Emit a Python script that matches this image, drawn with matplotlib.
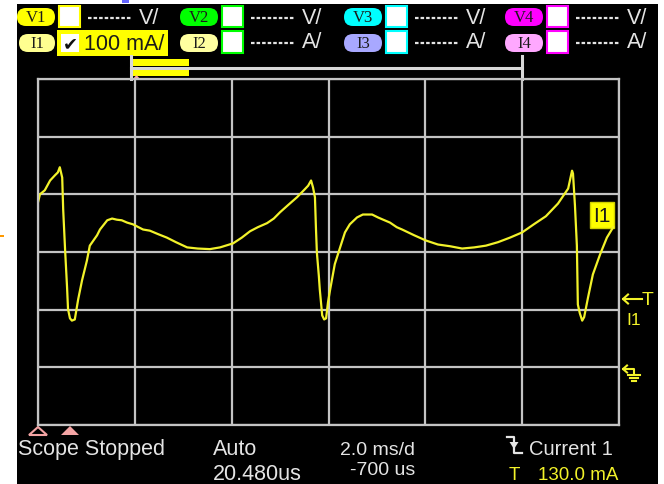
import numpy as np
import matplotlib
matplotlib.use('Agg')
import matplotlib.pyplot as plt
from matplotlib.patches import Rectangle, FancyBboxPatch, Polygon

# I1 trace: time (ms from left grid edge) and current (mA)
time_ms = [0.00, 0.04, 0.14, 0.25, 0.35, 0.41, 0.45, 0.50, 0.52, 0.56, 0.60, 0.62,
           0.66, 0.70, 0.76, 0.83, 0.91, 1.01, 1.07, 1.22, 1.28, 1.43, 1.53, 1.63,
           1.73, 1.84, 1.96, 2.17, 2.31, 2.48, 2.66, 2.85, 3.08, 3.30, 3.55, 3.76,
           4.03, 4.21, 4.38, 4.54, 4.73, 4.87, 5.00, 5.16, 5.35, 5.49, 5.58, 5.64,
           5.68, 5.72, 5.74, 5.76, 5.80, 5.82, 5.87, 5.91, 5.95, 5.99, 6.03, 6.13,
           6.24, 6.34, 6.44, 6.59, 6.71, 6.90, 7.02, 7.13, 7.27, 7.41, 7.52, 7.77,
           8.01, 8.26, 8.51, 8.76, 9.01, 9.25, 9.50, 9.75, 10.00, 10.24, 10.49, 10.74,
           10.95, 11.03, 11.05, 11.09, 11.13, 11.15, 11.19, 11.24, 11.28, 11.36, 11.46,
           11.61, 11.75, 11.88]
current_ma = [286, 300, 307, 324, 333, 338, 347, 329, 274, 203, 139, 101,
              85, 81, 83, 118, 151, 185, 211, 229, 239, 255, 258, 256,
              255, 251, 248, 239, 237, 231, 225, 217, 208, 206, 205, 208,
              215, 225, 236, 243, 250, 258, 269, 281, 295, 307, 315, 324,
              312, 295, 243, 199, 159, 135, 90, 83, 85, 113, 133, 179,
              208, 234, 248, 260, 265, 265, 260, 256, 251, 243, 239, 229,
              220, 213, 210, 206, 208, 211, 217, 225, 234, 248, 262, 284,
              310, 341, 336, 281, 211, 109, 94, 81, 87, 121, 161,
              196, 225, 243]

# grid: 2.0 ms/div across, 100 mA/div up
x_ticks = np.arange(0, 13, 2)
y_ticks = np.arange(-100, 501, 100)

# scope readouts
channels = ['1', '2', '3', '4']
v_colors = ['#ffff00', '#00ff00', '#00ffff', '#ff00ff']
i_colors = ['#ffff90', '#ffffa0', '#a8a8ff', '#ffa8ff']
i1_scale = '100 mA/'
status = 'Scope Stopped'
acq_mode = 'Auto'
sample_time = '20.480us'
time_div = '2.0 ms/d'
time_offset = '-700 us'
trig_source = 'Current 1'
trig_level = '130.0 mA'

GRID = '#c4c4c4'
TRACE = '#f2f22a'
TXT = '#e4e4e4'
PINK = '#f4a4a4'
SANS = 'Liberation Sans'
DASH = (0, (1.6, 0.9))

W, H = 664, 485
fig = plt.figure(figsize=(W / 100, H / 100), dpi=100, facecolor='white')

# pixel-space overlay for the instrument screen chrome
ov = fig.add_axes([0, 0, 1, 1])
ov.set_xlim(0, W)
ov.set_ylim(H, 0)
ov.axis('off')
ov.add_patch(Rectangle((17, 5), 641, 480, fc='black', ec='none'))
ov.add_patch(Rectangle((122, 0), 7, 4, fc='#6464ff', ec='none'))
ov.add_patch(Rectangle((0, 236), 4, 2, fc='#ff9900', ec='none'))

# scope grid
gx0, gx1, gy0, gy1 = 38, 619, 80, 426
ax = fig.add_axes([gx0 / W, 1 - gy1 / H, (gx1 - gx0) / W, (gy1 - gy0) / H])
ax.set_facecolor('none')
ax.set_xlim(0, 12)
ax.set_ylim(-100, 500)
ax.set_xticks(x_ticks)
ax.set_yticks(y_ticks)
ax.tick_params(length=0, labelbottom=False, labelleft=False)
ax.grid(True, color=GRID, lw=1.6)
for s in ax.spines.values():
    s.set_color(GRID)
    s.set_linewidth(1.6)
ax.plot(time_ms, current_ma, color=TRACE, lw=1.6)


def pill(x, y, w, h, color, label):
    ov.add_patch(FancyBboxPatch((x, y), w, h, boxstyle=f'round,pad=0,rounding_size={h / 2}',
                                fc=color, ec='none'))
    ov.text(x + w / 2, y + h / 2 + 0.5, label, ha='center', va='center', fontsize=12,
            family='Liberation Serif', color='#1a1a1a')


# channel header, two rows (voltage / current)
group_x = [17, 180, 344, 505]
for k in range(4):
    gx = group_x[k]
    pill(gx, 9, 38, 18, v_colors[k], 'V' + channels[k])
    ov.add_patch(Rectangle((gx + 42, 7), 21, 21, fc='white', ec=v_colors[k], lw=1.5))
    ov.plot([gx + 71, gx + 115], [19, 19], color=TXT, lw=1.6, ls=DASH)
    ov.text(gx + 122, 18, 'V/', ha='left', va='center', fontsize=15.5, family=SANS, color=TXT)

    pill(gx + (2 if k == 0 else 0), 35, 36 if k == 0 else 38, 18, i_colors[k], 'I' + channels[k])
    if k == 0:
        ov.add_patch(Rectangle((57, 31), 111, 26, fc='#ffff00', ec='none'))
        ov.add_patch(Rectangle((61, 35), 18, 18, fc='white', ec='none'))
        ov.text(70, 44, '\u2714', ha='center', va='center', fontsize=13,
                family='DejaVu Sans', color='#111111')
        ov.text(84, 44.5, i1_scale, ha='left', va='center', fontsize=15.5, family=SANS,
                color='#1a1a1a')
    else:
        ov.add_patch(Rectangle((gx + 42, 32), 21, 22, fc='white', ec=v_colors[k], lw=1.5))
        ov.plot([gx + 71, gx + 115], [44, 44], color=TXT, lw=1.6, ls=DASH)
        ov.text(gx + 122, 43, 'A/', ha='left', va='center', fontsize=15.5, family=SANS,
                color=TXT)

# record / view bar above the grid
ov.plot([131, 131], [57, 80], color='#d8d8d8', lw=2.2)
ov.plot([522, 522], [57, 80], color='#d8d8d8', lw=2.2)
ov.plot([131, 522], [69, 69], color='#d8d8d8', lw=2.2)
ov.add_patch(Rectangle((133, 60), 56, 7, fc='#ffff00', ec='none'))
ov.add_patch(Rectangle((133, 71), 56, 6, fc='#ffff00', ec='none'))
ov.add_patch(Polygon([(132, 81), (141, 81), (136.5, 76)], fc=PINK, ec='none'))

# bottom markers and readouts
ov.add_patch(Polygon([(29, 436), (47, 436), (38, 428)], fill=False, ec=PINK, lw=1.5))
ov.add_patch(Polygon([(61, 436), (79, 436), (70, 427)], fc=PINK, ec='none'))
ov.text(18, 455, status, ha='left', va='baseline', fontsize=15.5, family=SANS, color=TXT)
ov.text(213, 455, acq_mode, ha='left', va='baseline', fontsize=15.5, family=SANS, color=TXT)
ov.text(213, 480, sample_time, ha='left', va='baseline', fontsize=15.5, family=SANS, color=TXT)
ov.text(415, 455, time_div, ha='right', va='baseline', fontsize=14, family=SANS, color=TXT)
ov.text(415, 475, time_offset, ha='right', va='baseline', fontsize=14, family=SANS, color=TXT)
ov.text(529, 455, trig_source, ha='left', va='baseline', fontsize=14.5, family=SANS, color=TXT)
ov.text(509, 480, 'T', ha='left', va='baseline', fontsize=13.5, family=SANS, color=TRACE)
ov.text(618, 480, trig_level, ha='right', va='baseline', fontsize=13.5, family=SANS, color=TRACE)

# falling-edge trigger glyph
ov.plot([507, 514, 514, 522], [438, 438, 454, 454], color=TXT, lw=1.6)
ov.add_patch(Polygon([(509.5, 443), (518.5, 443), (514, 450)], fc=TXT, ec='none'))

# channel label on the trace end
ov.add_patch(Rectangle((590, 203), 24, 26, fc='#ffff00', ec='#d0d000', lw=1))
ov.text(602, 216.5, 'I1', ha='center', va='center', fontsize=15, family=SANS, color='#1a1a1a')

# trigger level marker on the right
ov.plot([623, 642], [300, 300], color=TRACE, lw=1.5)
ov.plot([628, 623, 628], [295.5, 300, 304.5], color=TRACE, lw=1.5)
ov.text(642, 300.5, 'T', ha='left', va='center', fontsize=14, family=SANS, color=TRACE)
ov.text(626, 321, 'I1', ha='left', va='center', fontsize=12.5, family=SANS, color=TRACE)

# ground reference marker
ov.plot([623, 634, 634], [370, 370, 375], color=TRACE, lw=1.5)
ov.plot([627, 623, 627], [366.5, 370, 373.5], color=TRACE, lw=1.5)
ov.plot([628, 640], [375.5, 375.5], color=TRACE, lw=1.5)
ov.plot([630, 638], [378.5, 378.5], color=TRACE, lw=1.5)
ov.plot([632, 636], [381.5, 381.5], color=TRACE, lw=1.5)

fig.savefig('out.png', dpi=100, facecolor='white')
